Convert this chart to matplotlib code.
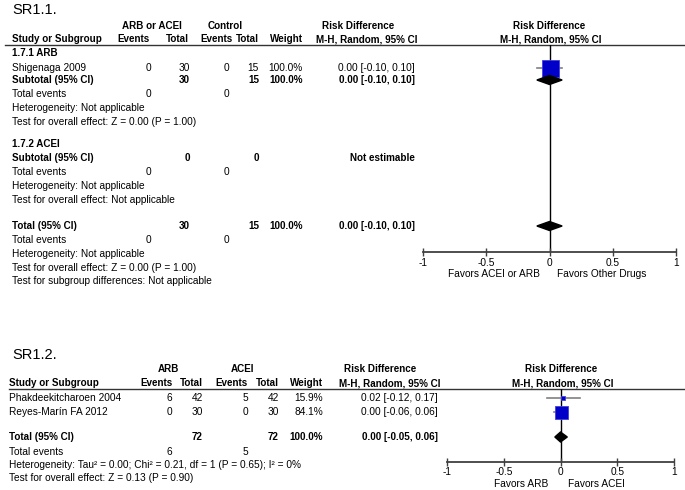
import matplotlib
matplotlib.use('Agg')
import matplotlib.pyplot as plt

plt.rcParams['font.family'] = ['Liberation Sans', 'DejaVu Sans']

# ---- SR1.1 data ----
top_studies = ['Shigenaga 2009']
top_ev1 = [0]
top_n1 = [30]
top_ev2 = [0]
top_n2 = [15]
top_w = [100.0]
top_rd = [0.00]
top_lo = [-0.10]
top_hi = [0.10]
# subgroup ARB, subgroup ACEI, overall
top_sub_n1 = [30, 0, 30]
top_sub_n2 = [15, 0, 15]
top_sub_ev1 = [0, 0, 0]
top_sub_ev2 = [0, 0, 0]
top_sub_rd = [0.00, None, 0.00]
top_sub_lo = [-0.10, None, -0.10]
top_sub_hi = [0.10, None, 0.10]

# ---- SR1.2 data ----
bot_studies = ['Phakdeekitcharoen 2004', 'Reyes-Marín FA 2012']
bot_ev1 = [6, 0]
bot_n1 = [42, 30]
bot_ev2 = [5, 0]
bot_n2 = [42, 30]
bot_w = [15.9, 84.1]
bot_rd = [0.02, 0.00]
bot_lo = [-0.12, -0.06]
bot_hi = [0.17, 0.06]
bot_tot_n = [72, 72]
bot_tot_ev = [6, 5]
bot_tot_rd = [0.00, -0.05, 0.06]

ticks = [-1, -0.5, 0, 0.5, 1]
tick_labels = ['-1', '-0.5', '0', '0.5', '1']

W, H = 685, 490
fig = plt.figure(figsize=(W / 100, H / 100), dpi=100)
ax = fig.add_axes([0, 0, 1, 1])
ax.set_xlim(0, W)
ax.set_ylim(H, 0)
ax.axis('off')

FS = 7.3
FSB = 7.1
BLUE = '#0000C8'


def t(x, y, s, ha='left', bold=False, size=None):
    if size is None:
        size = FSB if bold else FS
    ax.text(x, y, s, ha=ha, va='center', fontsize=size,
            fontweight='bold' if bold else 'normal', color='black')


def ci_text(rd, lo, hi):
    return f'{rd:.2f} [{lo:.2f}, {hi:.2f}]'


def forest_axes(x0, x1, y0, y1, pad=1.5):
    fa = fig.add_axes([x0 / W, 1 - y1 / H, (x1 - x0) / W, (y1 - y0) / H])
    fa.set_xlim(-1, 1)
    fa.set_ylim(y1, y0)
    fa.patch.set_alpha(0)
    for s in ['top', 'left', 'right']:
        fa.spines[s].set_visible(False)
    fa.spines['bottom'].set_color('#404040')
    fa.spines['bottom'].set_linewidth(1.3)
    fa.set_xticks(ticks)
    fa.set_xticklabels(tick_labels, fontsize=FS)
    fa.tick_params(axis='x', direction='inout', length=6, width=1,
                   color='#404040', pad=pad)
    fa.set_yticks([])
    fa.axvline(0, color='black', lw=1, zorder=1)
    return fa


def diamond(fa, y, est, lo, hi, h):
    fa.fill([lo, est, hi, est], [y, y - h, y, y + h], color='black',
            zorder=4, clip_on=False)


def square(fa, y, est, lo, hi, side_px):
    fa.plot([lo, hi], [y, y], color='#808080', lw=1.2, zorder=2)
    fa.plot([est], [y], marker='s', ms=side_px * 0.72, color=BLUE,
            mec='#4040E0', mew=0.6, zorder=3, clip_on=False)


# ================= SR1.1 =================
t(12, 10, 'SR1.1.', size=10.5)
t(152, 26, 'ARB or ACEI', ha='center', bold=True)
t(225, 26, 'Control', ha='center', bold=True)
t(358, 26, 'Risk Difference', ha='center', bold=True)
t(549, 26, 'Risk Difference', ha='center', bold=True)
t(12, 39, 'Study or Subgroup', bold=True)
t(150, 39, 'Events', ha='right', bold=True)
t(189, 39, 'Total', ha='right', bold=True)
t(233, 39, 'Events', ha='right', bold=True)
t(259, 39, 'Total', ha='right', bold=True)
t(303, 39, 'Weight', ha='right', bold=True)
t(367, 39, 'M-H, Random, 95% CI', ha='center', bold=True)
t(551, 39, 'M-H, Random, 95% CI', ha='center', bold=True)
ax.plot([5, 685], [45, 45], color='#333333', lw=1)

c1, c2, c3, c4, cw, cci = 151, 190, 229, 259, 303, 415
top_fa = forest_axes(423, 676, 45, 252)

# subgroup ARB
t(12, 53, '1.7.1 ARB', bold=True)
row_y = [68]
for i, name in enumerate(top_studies):
    y = row_y[i]
    t(12, y, name)
    t(c1, y, str(top_ev1[i]), ha='right')
    t(c2, y, str(top_n1[i]), ha='right')
    t(c3, y, str(top_ev2[i]), ha='right')
    t(c4, y, str(top_n2[i]), ha='right')
    t(cw, y, f'{top_w[i]:.1f}%', ha='right')
    t(cci, y, ci_text(top_rd[i], top_lo[i], top_hi[i]), ha='right')
    square(top_fa, y, top_rd[i], top_lo[i], top_hi[i], 17)

sub_y = [80, 158, 226]
sub_names = ['Subtotal (95% CI)', 'Subtotal (95% CI)', 'Total (95% CI)']
for k, y in enumerate(sub_y):
    t(12, y, sub_names[k], bold=True)
    t(c2, y, str(top_sub_n1[k]), ha='right', bold=True)
    t(c4, y, str(top_sub_n2[k]), ha='right', bold=True)
    if top_sub_rd[k] is None:
        t(cci, y, 'Not estimable', ha='right', bold=True)
    else:
        t(cw, y, '100.0%', ha='right', bold=True)
        t(cci, y, ci_text(top_sub_rd[k], top_sub_lo[k], top_sub_hi[k]),
          ha='right', bold=True)
        diamond(top_fa, y, top_sub_rd[k], top_sub_lo[k], top_sub_hi[k], 4.5)
    ev_y = y + 14
    t(12, ev_y, 'Total events')
    t(c1, ev_y, str(top_sub_ev1[k]), ha='right')
    t(c3, ev_y, str(top_sub_ev2[k]), ha='right')
    t(12, ev_y + 14, 'Heterogeneity: Not applicable')
    if k == 1:
        t(12, ev_y + 28, 'Test for overall effect: Not applicable')
    else:
        t(12, ev_y + 28, 'Test for overall effect: Z = 0.00 (P = 1.00)')

t(12, 144, '1.7.2 ACEI', bold=True)
t(12, 281, 'Test for subgroup differences: Not applicable')

t(540, 274, 'Favors ACEI or ARB', ha='right')
t(557, 274, 'Favors Other Drugs')

# ================= SR1.2 =================
t(12, 355, 'SR1.2.', size=10.5)
t(168, 369, 'ARB', ha='center', bold=True)
t(243, 369, 'ACEI', ha='center', bold=True)
t(380, 369, 'Risk Difference', ha='center', bold=True)
t(561, 369, 'Risk Difference', ha='center', bold=True)
t(9, 383, 'Study or Subgroup', bold=True)
t(173, 383, 'Events', ha='right', bold=True)
t(203, 383, 'Total', ha='right', bold=True)
t(248, 383, 'Events', ha='right', bold=True)
t(279, 383, 'Total', ha='right', bold=True)
t(323, 383, 'Weight', ha='right', bold=True)
t(390, 383, 'M-H, Random, 95% CI', ha='center', bold=True)
t(563, 383, 'M-H, Random, 95% CI', ha='center', bold=True)
ax.plot([9, 685], [389, 389], color='#333333', lw=1)

d1, d2, d3, d4, dw, dci = 172, 203, 248, 279, 323, 438
bot_fa = forest_axes(447, 674, 389, 462, pad=0.8)

brow_y = [398, 412]
for i, name in enumerate(bot_studies):
    y = brow_y[i]
    t(9, y, name)
    t(d1, y, str(bot_ev1[i]), ha='right')
    t(d2, y, str(bot_n1[i]), ha='right')
    t(d3, y, str(bot_ev2[i]), ha='right')
    t(d4, y, str(bot_n2[i]), ha='right')
    t(dw, y, f'{bot_w[i]:.1f}%', ha='right')
    t(dci, y, ci_text(bot_rd[i], bot_lo[i], bot_hi[i]), ha='right')
    square(bot_fa, y, bot_rd[i], bot_lo[i], bot_hi[i],
           13 * (bot_w[i] / max(bot_w)) ** 0.7)

y = 437
t(9, y, 'Total (95% CI)', bold=True)
t(d2, y, str(bot_tot_n[0]), ha='right', bold=True)
t(d4, y, str(bot_tot_n[1]), ha='right', bold=True)
t(dw, y, f'{sum(bot_w):.1f}%', ha='right', bold=True)
t(dci, y, ci_text(*bot_tot_rd), ha='right', bold=True)
diamond(bot_fa, y, *bot_tot_rd, 5)
t(9, 452, 'Total events')
t(d1, 452, str(bot_tot_ev[0]), ha='right')
t(d3, 452, str(bot_tot_ev[1]), ha='right')
t(9, 465, 'Heterogeneity: Tau² = 0.00; Chi² = 0.21, df = 1 (P = 0.65); I² = 0%')
t(9, 478, 'Test for overall effect: Z = 0.13 (P = 0.90)')

t(548, 484, 'Favors ARB', ha='right')
t(568, 484, 'Favors ACEI')

fig.savefig('out.png', dpi=100)
